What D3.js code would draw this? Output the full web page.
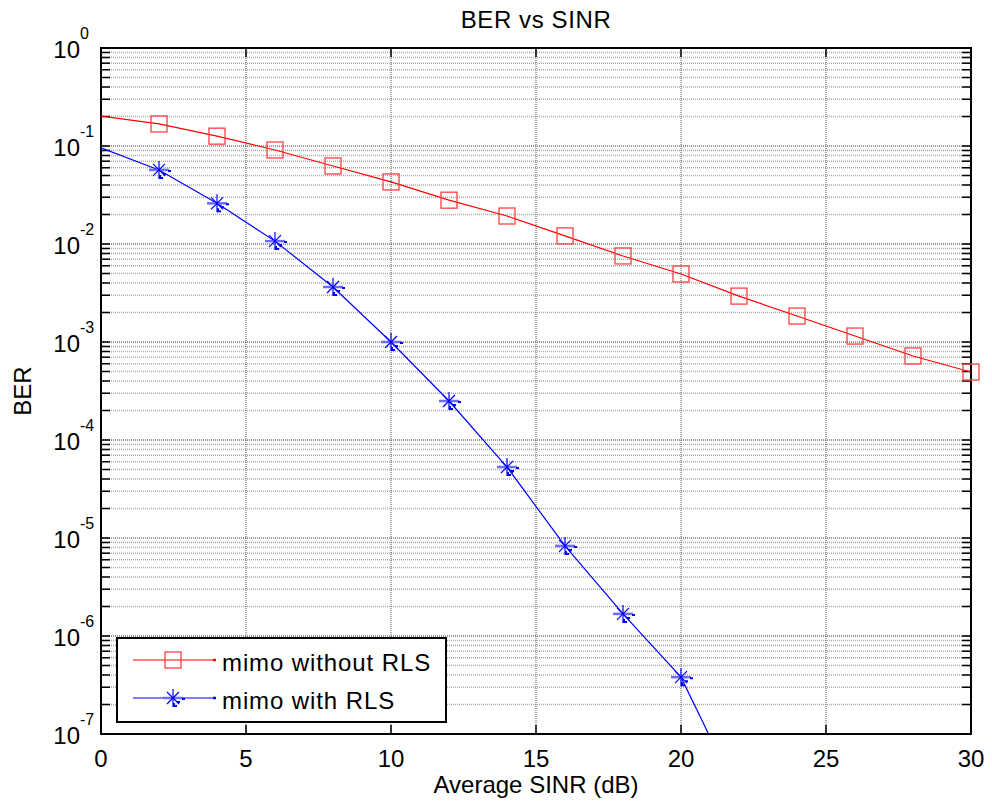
<!DOCTYPE html>
<html lang="en">
<head>
<meta charset="utf-8">
<style>
  body { margin: 0; background: #fff; }
  svg { display: block; font-family: "Liberation Sans", Arial, sans-serif; }
</style>
<script src="https://cdn.jsdelivr.net/npm/d3@7"></script>
</head>
<body>
<script>
// values
const sinrRed = [0, 2, 4, 6, 8, 10, 12, 14, 16, 18, 20, 22, 24, 26, 28, 30];
const berRed = [0.202, 0.168, 0.126, 0.091, 0.0625, 0.043, 0.028, 0.0193, 0.0121,
                0.00755, 0.00494, 0.00294, 0.00184, 0.00115, 0.00072, 0.000494];
const sinrBlue = [0, 2, 4, 6, 8, 10, 12, 14, 16, 18, 20, 22];
const berBlue = [0.096, 0.057, 0.026, 0.0107, 0.00364, 0.001, 0.00025, 5.3e-5,
                 8.3e-6, 1.68e-6, 3.8e-7, 2.3e-8];
const xTicks = [0, 5, 10, 15, 20, 25, 30];
const yExponents = [0, -1, -2, -3, -4, -5, -6, -7];
const legendLabels = ["mimo without RLS", "mimo with RLS"];

let w = 992, h = 810;
let pLeft = 101, pRight = 971, pTop = 48, pBottom = 734;

let svg = d3.select("body").append("svg")
    .attr("width", w)
    .attr("height", h);

let x = d3.scaleLinear().domain([0, 30]).range([pLeft, pRight]);
let y = d3.scaleLog().domain([1e-7, 1]).range([pBottom, pTop]);

svg.append("clipPath").attr("id", "plotclip")
    .append("rect")
    .attr("x", pLeft).attr("y", pTop)
    .attr("width", pRight - pLeft).attr("height", pBottom - pTop);

// minor horizontal grid
let minor = [];
yExponents.slice(1).forEach(e => {
    for (let k = 2; k <= 9; k++) minor.push(k * Math.pow(10, e));
});
let grid = svg.append("g");
grid.selectAll("line.minor")
    .data(minor)
    .join("line")
    .attr("x1", pLeft).attr("x2", pRight)
    .attr("y1", d => y(d)).attr("y2", d => y(d))
    .attr("stroke", "#aaa")
    .attr("stroke-width", 1.6)
    .attr("stroke-dasharray", "1,1");

grid.selectAll("line.major")
    .data(yExponents.map(e => Math.pow(10, e)))
    .join("line")
    .attr("x1", pLeft).attr("x2", pRight)
    .attr("y1", d => y(d)).attr("y2", d => y(d))
    .attr("stroke", "#777")
    .attr("stroke-width", 1.6)
    .attr("stroke-dasharray", "1,1");

grid.selectAll("line.vert")
    .data(xTicks.slice(1, -1))
    .join("line")
    .attr("x1", d => x(d)).attr("x2", d => x(d))
    .attr("y1", pTop).attr("y2", pBottom)
    .attr("stroke", "#555")
    .attr("stroke-width", 1)
    .attr("stroke-dasharray", "1,1");

// ticks (inward)
let ticks = svg.append("g").attr("stroke", "#000").attr("stroke-width", 1.5);
xTicks.forEach(t => {
    ticks.append("line").attr("x1", x(t)).attr("x2", x(t)).attr("y1", pBottom).attr("y2", pBottom - 9);
    ticks.append("line").attr("x1", x(t)).attr("x2", x(t)).attr("y1", pTop).attr("y2", pTop + 9);
});
minor.concat(yExponents.map(e => Math.pow(10, e))).forEach(v => {
    ticks.append("line").attr("x1", pLeft).attr("x2", pLeft + 9).attr("y1", y(v)).attr("y2", y(v));
    ticks.append("line").attr("x1", pRight).attr("x2", pRight - 9).attr("y1", y(v)).attr("y2", y(v));
});

// axes box
svg.append("rect")
    .attr("x", pLeft).attr("y", pTop)
    .attr("width", pRight - pLeft).attr("height", pBottom - pTop)
    .attr("fill", "none")
    .attr("stroke", "#000")
    .attr("stroke-width", 2);

// tick labels
svg.append("g").selectAll("text")
    .data(xTicks)
    .join("text")
    .attr("x", d => x(d))
    .attr("y", pBottom + 33)
    .attr("text-anchor", "middle")
    .style("font-size", "24px")
    .text(d => d);

svg.append("g").selectAll("text")
    .data(yExponents)
    .join("text")
    .attr("x", 80)
    .attr("y", d => y(Math.pow(10, d)) + 10)
    .attr("text-anchor", "end")
    .style("font-size", "24px")
    .text("10");
svg.append("g").selectAll("text")
    .data(yExponents)
    .join("text")
    .attr("x", 80)
    .attr("y", d => y(Math.pow(10, d)) - 9)
    .style("font-size", "16px")
    .text(d => d === 0 ? "0" : d);

// titles
svg.append("text")
    .attr("x", (pLeft + pRight) / 2).attr("y", 28)
    .attr("text-anchor", "middle")
    .style("font-size", "24px")
    .style("letter-spacing", "0.6px")
    .text("BER vs SINR");
svg.append("text")
    .attr("x", (pLeft + pRight) / 2).attr("y", 793)
    .attr("text-anchor", "middle")
    .style("font-size", "24px")
    .text("Average SINR (dB)");
svg.append("text")
    .attr("transform", `translate(31,${(pTop + pBottom) / 2}) rotate(-90)`)
    .attr("text-anchor", "middle")
    .style("font-size", "24px")
    .text("BER");

// data
let redData = sinrRed.map((s, i) => ({ x: s, y: berRed[i] }));
let blueData = sinrBlue.map((s, i) => ({ x: s, y: berBlue[i] }));
let line = d3.line().x(d => x(d.x)).y(d => y(d.y));

let plot = svg.append("g");
plot.append("path").datum(redData)
    .attr("d", line).attr("fill", "none")
    .attr("stroke", "#ff0000").attr("stroke-width", 1.2)
    .attr("clip-path", "url(#plotclip)");
plot.append("path").datum(blueData)
    .attr("d", line).attr("fill", "none")
    .attr("stroke", "#0000ff").attr("stroke-width", 1.2)
    .attr("clip-path", "url(#plotclip)");

function square(g, cx, cy) {
    g.append("rect")
        .attr("x", cx - 8).attr("y", cy - 8)
        .attr("width", 16).attr("height", 16)
        .attr("fill", "none")
        .attr("stroke", "#ff4040")
        .attr("stroke-width", 1.3);
}

function star(g, cx, cy) {
    let s = g.append("g").attr("transform", `translate(${cx},${cy})`).attr("fill", "none");
    s.append("line").attr("x1", -10).attr("x2", 10).attr("y1", 0).attr("y2", 0)
        .attr("stroke", "#6c6cff").attr("stroke-width", 2.5);
    s.append("line").attr("x1", 0).attr("x2", 0).attr("y1", -9).attr("y2", 9)
        .attr("stroke", "#0000ff").attr("stroke-width", 1.2);
    s.append("line").attr("x1", -6).attr("x2", 6).attr("y1", -6).attr("y2", 6)
        .attr("stroke", "#0000ff").attr("stroke-width", 1.2);
    s.append("line").attr("x1", -6).attr("x2", 6).attr("y1", 6).attr("y2", -6)
        .attr("stroke", "#0000ff").attr("stroke-width", 1.2);
    s.append("path").attr("d", "M9,1H12M4,4H7M1,5V8H4")
        .attr("stroke", "#0000ff").attr("stroke-width", 2);
}

redData.filter(d => d.x > 0).forEach(d => square(plot, x(d.x), y(d.y)));
blueData.filter(d => d.x > 0 && d.y >= 1e-7).forEach(d => star(plot, x(d.x), y(d.y)));

// legend
let lg = svg.append("g");
lg.append("rect")
    .attr("x", 117).attr("y", 638)
    .attr("width", 329).attr("height", 84)
    .attr("fill", "#fff")
    .attr("stroke", "#000")
    .attr("stroke-width", 2);

const legendColors = ["#ff0000", "#0000ff"];
legendLabels.forEach((lab, i) => {
    let ly = 660 + i * 38;
    lg.append("line")
        .attr("x1", 133).attr("x2", 213)
        .attr("y1", ly).attr("y2", ly)
        .attr("stroke", legendColors[i]).attr("stroke-width", 1.2);
    lg.append("line")
        .attr("x1", 213).attr("x2", 216)
        .attr("y1", ly).attr("y2", ly)
        .attr("stroke", legendColors[i]).attr("stroke-width", 2.5);
    if (i === 0) square(lg, 173, ly);
    else star(lg, 173, ly);
    lg.append("text")
        .attr("x", 222).attr("y", ly + 11)
        .style("font-size", "24px")
        .style("letter-spacing", "0.9px")
        .text(lab);
});
</script>
</body>
</html>
